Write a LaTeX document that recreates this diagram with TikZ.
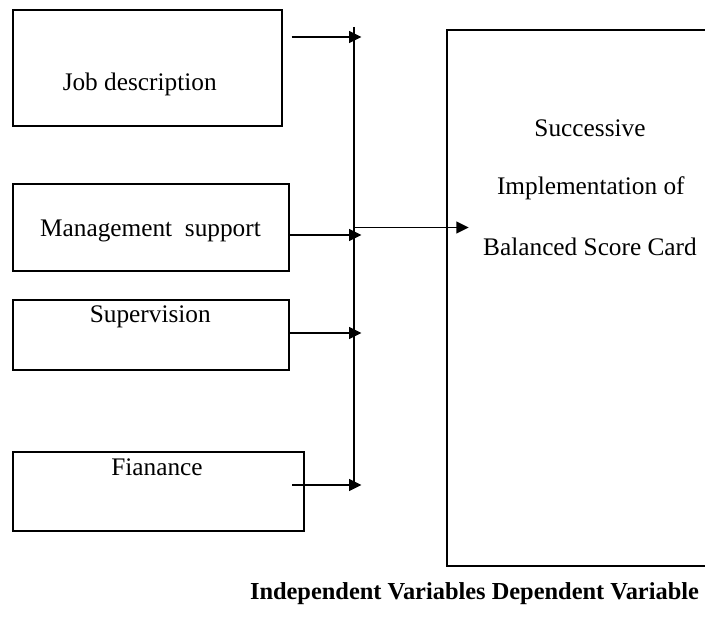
\documentclass[tikz,border=0pt]{standalone}
\usepackage{fontspec}
\setmainfont{Liberation Serif}
\usetikzlibrary{arrows.meta}

\tikzset{
    varbox/.style={draw, line width=2pt, inner sep=0pt},
    vartext/.style={anchor=base, inner sep=0pt, font=\fontsize{25.3}{30}\selectfont},
    feed/.style={line width=1.6pt, -{Triangle[length=12.5pt,width=12pt]}}
}

\begin{document}
\begin{tikzpicture}[x=1pt,y=-1pt]
    \useasboundingbox (0,0) rectangle (705,623);

    % independent variables
    \node[varbox, minimum width=269pt, minimum height=116pt] (job) at (147,68) {};
    \node[varbox, minimum width=276.5pt, minimum height=87pt] (mgmt) at (150.75,227.5) {};
    \node[varbox, minimum width=276.5pt, minimum height=70pt] (sup) at (150.75,335) {};
    \node[varbox, minimum width=291pt, minimum height=79pt] (fin) at (158,491.5) {};
    \node[vartext] (jobtext) at (139.7,91) {Job description};
    \node[vartext] (mgmttext) at (150.5,236.5) {Management\ \ support};
    \node[vartext] (suptext) at (150.3,322.3) {Supervision};
    \node[vartext] (fintext) at (157,475) {Fianance};

    % dependent variable
    \node[varbox, line width=2.4pt, minimum width=293pt, minimum height=536pt] (dv) at (593.5,298) {};
    \node[vartext] (dvtext1) at (590,136.7) {Successive};
    \node[vartext] (dvtext2) at (590.8,194.5) {Implementation of};
    \node[vartext] (dvtext3) at (590,255) {Balanced Score Card};

    % bus line
    \coordinate (bustop) at (354,27);
    \coordinate (busbot) at (354,485);
    \coordinate (busout) at (354,227.5);
    \draw[line width=1.3pt] (bustop) -- (busbot);

    \draw[feed] ([xshift=9pt]job.east |- 0,37) -- (361.5,37);
    \draw[feed] (mgmt.east |- 0,235) -- (361.5,235);
    \draw[feed] (sup.east |- 0,333) -- (361.5,333);
    \draw[feed] ([xshift=-12.5pt]fin.east |- busbot) -- ([xshift=7.5pt]busbot);
    \draw[feed] (busout) -- ([xshift=23pt]dv.west |- busout);

    \node[anchor=base, inner sep=0pt, font=\bfseries\fontsize{24.4}{29}\selectfont] (caption) at (474.5,599)
        {Independent Variables Dependent Variable};
\end{tikzpicture}
\end{document}
